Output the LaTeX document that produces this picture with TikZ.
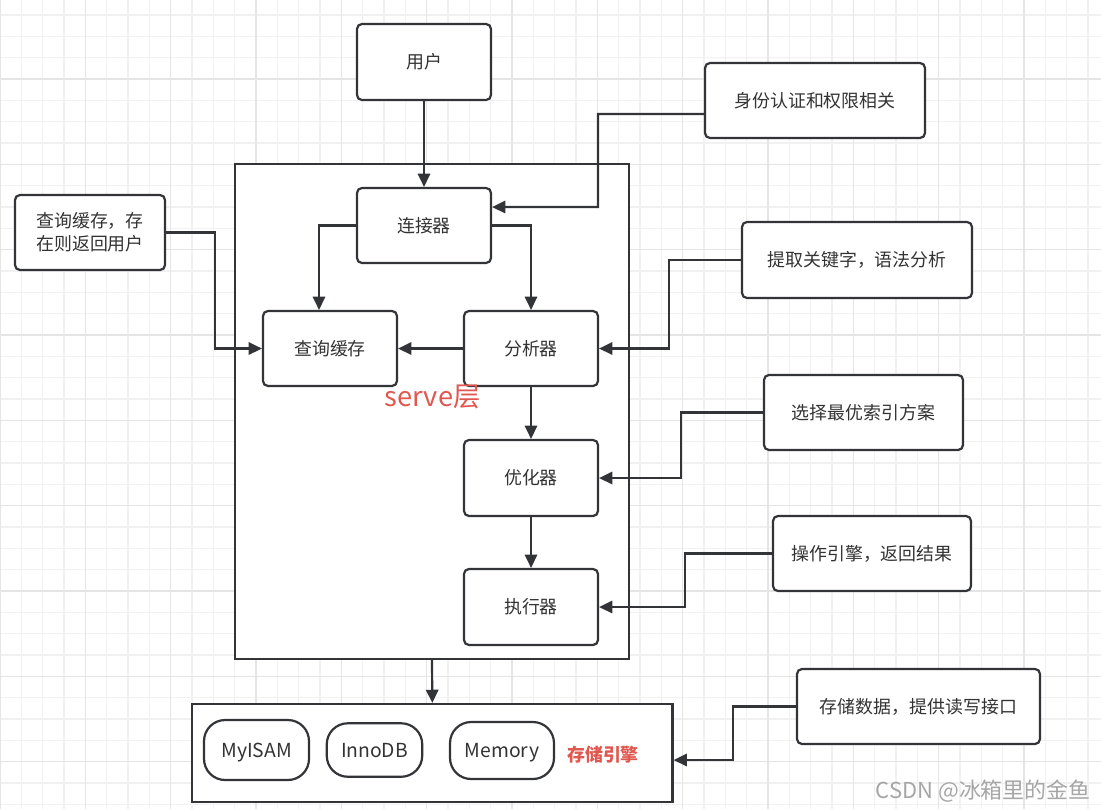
\documentclass[tikz,border=0pt]{standalone}
\usepackage{fontspec}
\setmainfont{Noto Sans CJK SC}
\usetikzlibrary{arrows.meta}
\definecolor{linegray}{RGB}{50,52,56}
\definecolor{textgray}{RGB}{51,51,51}
\definecolor{gridminor}{RGB}{241,241,241}
\definecolor{gridmajor}{RGB}{229,229,229}
\definecolor{notered}{RGB}{224,88,80}

\begin{document}
\begin{tikzpicture}[x=0.02cm,y=-0.02cm,font=\fontsize{10.2pt}{12.9pt}\selectfont,text=textgray,
  box/.style={draw=linegray,line width=1.25pt,rounded corners=2.8pt,fill=white,minimum height=1.5cm,inner sep=2pt},
  frame/.style={draw=linegray,line width=1.25pt,fill=white,inner sep=0pt},
  pill/.style={draw=linegray,line width=1.25pt,rounded corners=12pt,fill=white,text height=1.6ex,text depth=0.1ex,font=\fontsize{11pt}{13pt}\selectfont},
  arr/.style={draw=linegray,line width=1.25pt,-{Triangle[length=7.5pt,width=7pt]}}]
\useasboundingbox (0,0) rectangle (1101,809);
\fill[white] (0,0) rectangle (1101,809);
\foreach \i in {0,...,51} {\pgfmathsetmacro\gx{21.333*\i}\draw[gridminor,line width=0.6pt] (\gx,0) -- (\gx,809);}
\foreach \j in {0,...,38} {\pgfmathsetmacro\gy{-6.333+21.333*\j}\draw[gridminor,line width=0.6pt] (0,\gy) -- (1101,\gy);}
\foreach \i in {0,...,12} {\pgfmathsetmacro\gx{85.333*\i}\draw[gridmajor,line width=0.7pt] (\gx,0) -- (\gx,809);}
\foreach \j in {0,...,9} {\pgfmathsetmacro\gy{-6.333+85.333*\j}\draw[gridmajor,line width=0.7pt] (0,\gy) -- (1101,\gy);}

\node[frame,minimum width=7.88cm,minimum height=9.9cm] (serve) at (432,411.5) {};
\node[frame,minimum width=9.61cm,minimum height=1.96cm] (storage) at (432.3,753) {};

\node[box,minimum width=2.68cm,minimum height=1.52cm] (user) at (424,62) {用户};
\node[box,minimum width=4.4cm] (auth) at (815,100.5) {身份认证和权限相关};
\node[box,minimum width=2.68cm] (conn) at (424,225.5) {连接器};
\node[box,minimum width=3cm,align=center] (cachenote) at (90,232.5) {查询缓存，存\\在则返回用户};
\node[box,minimum width=4.6cm,minimum height=1.52cm] (parsenote) at (857,260) {提取关键字，语法分析};
\node[box,minimum width=2.68cm] (cache) at (330,348.5) {查询缓存};
\node[box,minimum width=2.68cm] (parser) at (531,348.5) {分析器};
\node[box,minimum width=3.98cm] (choose) at (863.5,412.5) {选择最优索引方案};
\node[box,minimum width=2.68cm,minimum height=1.52cm] (optim) at (531,478) {优化器};
\node[box,minimum width=3.96cm] (opnote) at (872,553.5) {操作引擎，返回结果};
\node[box,minimum width=2.68cm,minimum height=1.52cm] (exec) at (531,607) {执行器};
\node[box,minimum width=4.86cm] (storenote) at (918.5,706.5) {存储数据，提供读写接口};
\node[text=notered,font=\fontsize{15.5pt}{18pt}\selectfont] (servelabel) at (432.5,397) {serve层};

\node[pill,minimum width=2.1cm,minimum height=1.2cm] (myisam) at (256.5,750) {MyISAM};
\node[pill,minimum width=1.91cm,minimum height=1.07cm] (innodb) at (374.5,750) {InnoDB};
\node[pill,minimum width=2.08cm,minimum height=1.14cm] (memory) at (502,750.5) {Memory};
\node[text=notered,font=\fontsize{10.2pt}{12pt}\selectfont\bfseries] (enginelabel) at (603,755) {存储引擎};

\draw[arr] (user) -- (conn);
\draw[arr] ([yshift=-0.27cm]auth.west) -| (598,207) -- ([yshift=0.37cm]conn.east);
\draw[arr] (conn.west) -| ([xshift=-0.22cm]cache.north);
\draw[arr] (conn.east) -| (parser.north);
\draw[arr] (cachenote.east) -- ++(49,0) |- (cache.west);
\draw[arr] (parser) -- (cache);
\draw[arr] (parsenote.west) -- ++(-72,0) |- (parser.east);
\draw[arr] (parser) -- (optim);
\draw[arr] (choose.west) -- ++(-82,0) |- (optim.east);
\draw[arr] (optim) -- (exec);
\draw[arr] (opnote.west) -- ++(-87,0) |- (exec.east);
\draw[arr] (serve.south) -- (storage.north);
\draw[arr] (storenote.west) -- ++(-63,0) |- ([yshift=-0.14cm]storage.east);

\node[anchor=east,text=black!35,font=\fontsize{12.5pt}{14pt}\selectfont] (mark) at (1097,791) {CSDN @冰箱里的金鱼};
\end{tikzpicture}
\end{document}
